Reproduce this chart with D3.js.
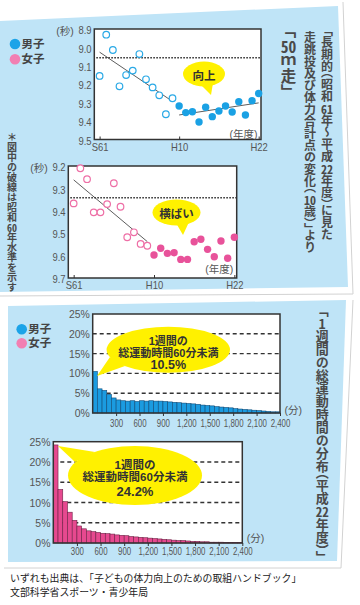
<!DOCTYPE html>
<html>
<head>
<meta charset="utf-8">
<script src="https://cdn.jsdelivr.net/npm/d3@7"></script>
<style>
  body { margin: 0; background: #fff; }
  svg { display: block; }
</style>
</head>
<body>
<script>
// ---- data: 50m dash (seconds, 10-year-olds) ----
const years = [1986, 1987, 1988, 1989, 1990, 1991, 1992, 1993, 1994, 1995, 1996, 1997,
               1998, 1999, 2000, 2001, 2002, 2003, 2004, 2005, 2006, 2007, 2008, 2009, 2010];
const boysTime = [9.155, 8.931, 9.014, 9.211, 9.150, 9.126, 9.036, 9.173, 9.217, 9.260, 9.363, 9.276,
                  9.318, 9.354, 9.349, 9.405, 9.325, 9.376, 9.345, 9.318, 9.351, 9.295, 9.367, 9.289, 9.250];
const girlsTime = [9.367, 9.210, 9.259, 9.407, 9.407, 9.370, 9.277, 9.382, 9.518, 9.496, 9.548, 9.556,
                   9.597, 9.567, 9.590, 9.587, 9.617, 9.617, 9.538, 9.527, 9.572, 9.605, 9.535, 9.612, 9.518];
const firstFilledYear = 1998;   // H10 onwards drawn as filled dots
const boysS60 = 9.056;          // S60 level (dotted line)
const girlsS60 = 9.342;
const yearTicks = [1986, 1998, 2010];
const yearTickLabels = ['S61', 'H10', 'H22'];
const boysTimeTicks = [8.9, 9.0, 9.1, 9.2, 9.3, 9.4, 9.5];
const girlsTimeTicks = [9.2, 9.3, 9.4, 9.5, 9.6, 9.7];

// ---- data: weekly exercise time distribution (%) per 60-minute bin ----
const binMinutes = 60;
const boysShare = [10.5, 6.1, 5.7, 4.7, 3.8, 3.3, 3.1, 3.0, 3.1, 2.9,
                   3.1, 3.0, 3.1, 3.0, 3.0, 2.9, 2.8, 2.7, 2.6, 2.5,
                   2.4, 2.3, 2.2, 2.0, 1.9, 1.8, 1.6, 1.5, 1.4, 1.3,
                   1.1, 1.0, 0.9, 0.8, 0.7, 0.6, 0.5, 0.4, 0.3, 0.3];
const girlsShare = [24.2, 13.2, 10.2, 7.6, 5.6, 4.2, 3.5, 3.0, 2.8, 2.6,
                    2.4, 2.3, 2.2, 2.0, 1.9, 1.8, 1.6, 1.5, 1.4, 1.3,
                    1.2, 1.1, 1.0, 0.9, 0.8, 0.7, 0.6, 0.6, 0.5, 0.4,
                    0.4, 0.3, 0.3, 0.2, 0.2, 0.2, 0.1, 0.1, 0.1, 0.1];
const minuteTicks = [300, 600, 900, 1200, 1500, 1800, 2100, 2400];
const shareTicks = [0, 5, 10, 15, 20, 25];
const shareGrid = [5, 10, 15, 20];

// colours
const PANEL = '#bfe4f7';
const YELLOW = '#fff100';
const TITLE = '#4a4a4a';
const BLUE = '#1aa1e4', BLUE_OPEN = '#2aa9e6', BLUE_LEG = '#1ba3e8';
const PINK = '#e8529a', PINK_OPEN = '#ee6fa6', PINK_LEG = '#f27fb2';
const FONT = "'Liberation Sans','Noto Sans CJK JP',sans-serif";
const CJK = "'Noto Sans CJK JP','Noto Sans',sans-serif";

const svg = d3.select('body').append('svg')
  .attr('width', 360).attr('height', 605)
  .style('font-family', FONT);

// background cards
svg.append('polygon').attr('points', '-2,21 338,6 348,287 -2,292').attr('fill', PANEL);
svg.append('polyline').attr('points', '343,2 353,294 0,296')
  .attr('fill', 'none').attr('stroke', '#d2d2d2').attr('stroke-width', 1);
svg.append('polygon').attr('points', '8,306 346,300 337,561 8,562').attr('fill', PANEL);
svg.append('polyline').attr('points', '353,300 341,568 4,568')
  .attr('fill', 'none').attr('stroke', '#d2d2d2').attr('stroke-width', 1);

// least squares line through a set of points
function fit(set) {
  const mx = d3.mean(set, d => d.yr), my = d3.mean(set, d => d.t);
  const b = d3.sum(set, d => (d.yr - mx) * (d.t - my)) / d3.sum(set, d => (d.yr - mx) ** 2);
  return v => my + b * (v - mx);
}

function styleTicks(axis, sx) {
  axis.attr('font-family', null).attr('font-size', null);
  axis.selectAll('text').attr('fill', '#555').attr('font-size', 10.5)
    .attr('transform', `scale(${sx},1)`);
}

// speech bubble: tail + ellipse + one text block
function callout(g, b) {
  g.append('path').attr('d', d3.line()(b.tail) + 'Z').attr('fill', YELLOW);
  g.append('ellipse').attr('cx', b.cx).attr('cy', b.cy).attr('rx', b.rx).attr('ry', b.ry)
    .attr('fill', YELLOW);
  const t = g.append('text').attr('text-anchor', 'middle').attr('dominant-baseline', 'central')
    .attr('font-weight', 'bold').attr('fill', '#333');
  b.lines.forEach(l => {
    t.append('tspan').attr('x', b.cx).attr('y', l.y).attr('font-size', l.size).text(l.text);
  });
}

function scatter(o) {
  const x = d3.scaleLinear().domain([1985.2, 2010.35]).range([o.left, o.right]);
  const y = d3.scaleLinear().domain(o.yDomain).range([o.top, o.bottom]);
  const data = years.map((yr, i) => ({ yr, t: o.values[i] }));
  const early = data.filter(d => d.yr < firstFilledYear);
  const late = data.filter(d => d.yr >= firstFilledYear);
  const g = svg.append('g');

  g.append('rect').attr('x', o.left).attr('y', o.top)
    .attr('width', o.right - o.left).attr('height', o.bottom - o.top).attr('fill', '#fff');
  // S60 level
  g.append('line').attr('x1', o.left + 2).attr('x2', o.right)
    .attr('y1', y(o.s60)).attr('y2', y(o.s60))
    .attr('stroke', '#333').attr('stroke-width', 1.6).attr('stroke-dasharray', '1.6,1.4');
  // trend lines
  (o.lateTrend ? [early, late] : [early]).forEach(set => {
    const f = fit(set);
    const a = set[0].yr, b = set[set.length - 1].yr;
    g.append('line').attr('x1', x(a)).attr('y1', y(f(a))).attr('x2', x(b)).attr('y2', y(f(b)))
      .attr('stroke', '#333').attr('stroke-width', 0.8);
  });
  callout(g, o.bubble);
  g.append('rect').attr('x', o.left).attr('y', o.top)
    .attr('width', o.right - o.left).attr('height', o.bottom - o.top)
    .attr('fill', 'none').attr('stroke', '#333').attr('stroke-width', 1.5);

  g.selectAll('circle.open').data(early).join('circle').attr('class', 'open')
    .attr('cx', d => x(d.yr)).attr('cy', d => y(d.t)).attr('r', 3.3)
    .attr('fill', '#fff').attr('stroke', o.open).attr('stroke-width', 1.2);
  g.selectAll('circle.dot').data(late).join('circle').attr('class', 'dot')
    .attr('cx', d => x(d.yr)).attr('cy', d => y(d.t)).attr('r', 3.7)
    .attr('fill', o.fill);

  const ya = g.append('g').attr('transform', `translate(${o.left},0)`)
    .call(d3.axisLeft(y).tickValues(o.yTicks).tickFormat(d3.format('.1f')).tickSize(0).tickPadding(3));
  ya.select('.domain').remove();
  styleTicks(ya, 0.9);
  ya.selectAll('text').attr('dy', '0.45em');

  const xa = g.append('g').attr('transform', `translate(0,${o.bottom})`)
    .call(d3.axisBottom(x).tickValues(yearTicks).tickFormat((d, i) => yearTickLabels[i])
      .tickSizeInner(-3).tickSizeOuter(0).tickPadding(4));
  xa.select('.domain').remove();
  xa.selectAll('line').attr('stroke', '#333');
  styleTicks(xa, 0.9);

  g.append('text').attr('x', o.left - 20.5).attr('y', o.top + 2)
    .attr('text-anchor', 'end').attr('dominant-baseline', 'central')
    .attr('font-size', 10.5).attr('fill', '#555').text('(秒)');
  g.append('text').attr('x', o.right - 3.5).attr('y', o.bottom - o.unitDy)
    .attr('text-anchor', 'end').attr('dominant-baseline', 'central')
    .attr('font-size', 10.5).attr('fill', '#555').text('(年度)');
}

function histogram(o) {
  const x = d3.scaleLinear().domain([0, 2400]).range([o.left, o.right]);
  const y = d3.scaleLinear().domain([0, 25]).range([o.bottom, o.top]);
  const bins = o.values.map((v, i) => ({ lo: i * binMinutes, hi: (i + 1) * binMinutes, v }));
  const g = svg.append('g');

  g.append('rect').attr('x', o.left).attr('y', o.top)
    .attr('width', o.right - o.left).attr('height', o.bottom - o.top).attr('fill', '#fff');
  g.selectAll('line.grid').data(shareGrid).join('line').attr('class', 'grid')
    .attr('x1', o.left).attr('x2', o.right).attr('y1', d => y(d)).attr('y2', d => y(d))
    .attr('stroke', '#333').attr('stroke-width', 1.4).attr('stroke-dasharray', '4,3');
  g.selectAll('rect.bar').data(bins).join('rect').attr('class', 'bar')
    .attr('x', d => x(d.lo)).attr('width', d => x(d.hi) - x(d.lo))
    .attr('y', d => y(d.v)).attr('height', d => y(0) - y(d.v))
    .attr('fill', o.fill).attr('stroke', o.stroke).attr('stroke-width', 0.6);
  callout(g, o.bubble);
  g.append('rect').attr('x', o.left).attr('y', o.top)
    .attr('width', o.right - o.left).attr('height', o.bottom - o.top)
    .attr('fill', 'none').attr('stroke', '#333').attr('stroke-width', 1.5);

  const ya = g.append('g').attr('transform', `translate(${o.left},0)`)
    .call(d3.axisLeft(y).tickValues(shareTicks).tickFormat(d => d + '%').tickSize(0).tickPadding(3));
  ya.select('.domain').remove();
  styleTicks(ya, 0.95);
  ya.selectAll('text').attr('font-size', 11);

  const xa = g.append('g').attr('transform', `translate(0,${o.bottom})`)
    .call(d3.axisBottom(x).tickValues(minuteTicks).tickFormat(d3.format(','))
      .tickSize(3).tickPadding(o.pad));
  xa.select('.domain').remove();
  xa.selectAll('line').attr('stroke', '#333');
  styleTicks(xa, 0.75);

  g.append('text').attr('x', o.right + 4.5).attr('y', o.bottom - o.unitDy)
    .attr('dominant-baseline', 'central')
    .attr('font-size', 10.5).attr('fill', '#555').text('(分)');
}

// vertical Japanese titles: one vertical-rl block per column, numbers set upright
function vertical(str, x, top, size, lh) {
  const div = d3.select('body').append('div')
    .style('position', 'absolute').style('left', (x - lh / 2) + 'px').style('top', top + 'px')
    .style('writing-mode', 'vertical-rl').style('white-space', 'nowrap')
    .style('font-family', CJK).style('font-size', size + 'px').style('line-height', lh + 'px')
    .style('font-weight', 'bold').style('color', TITLE)
    .style('text-spacing-trim', 'space-all');
  str.match(/[0-9]+|[「」（）]|[^0-9「」（）]+/gu).forEach(tok => {
    const span = div.append('span').text(tok);
    if (/^[0-9]+$/.test(tok)) span.style('text-combine-upright', 'all');
    else if (/^[「」（）]$/.test(tok)) span.style('font-feature-settings', '"vhal" 1');
  });
}

function legend(cx, y1, y2) {
  [[y1, BLUE_LEG, '男子'], [y2, PINK_LEG, '女子']].forEach(([cy, c, label]) => {
    svg.append('circle').attr('cx', cx).attr('cy', cy).attr('r', 5.3).attr('fill', c);
    svg.append('text').attr('x', cx + 6.5).attr('y', cy).attr('dominant-baseline', 'central')
      .attr('font-size', 11.5).attr('font-weight', 'bold').attr('fill', '#444').text(label);
  });
}

// ---- top panel: 50m dash ----
legend(15, 44, 59.3);

scatter({
  left: 94.3, right: 261, top: 29, bottom: 139.5,
  yDomain: [8.9, 9.5], yTicks: boysTimeTicks, values: boysTime, s60: boysS60,
  open: BLUE_OPEN, fill: BLUE, lateTrend: true, unitDy: 6,
  bubble: { cx: 204, cy: 74, rx: 21, ry: 12.5, tail: [[200, 84], [213, 83], [211, 95]],
            lines: [{ text: '向上', y: 75.5, size: 11.5 }] }
});

scatter({
  left: 68.3, right: 236.7, top: 166, bottom: 278,
  yDomain: [9.2, 9.7], yTicks: girlsTimeTicks, values: girlsTime, s60: girlsS60,
  open: PINK_OPEN, fill: PINK, lateTrend: false, unitDy: 9,
  bubble: { cx: 176.5, cy: 212.5, rx: 24, ry: 13, tail: [[176, 223], [189, 222], [183, 235]],
            lines: [{ text: '横ばい', y: 213.5, size: 11.5 }] }
});

vertical('「長期的（昭和61年～平成22年度）に見た', 327, 30, 12, 15);
vertical('走跳投及び体力合計点の変化（10歳）」より', 310, 31, 12, 15);
vertical('「50ｍ走」', 288, 30, 15.5, 19);
vertical('＊図中の破線は昭和60年水準を示す', 11.5, 132, 10, 12);

// ---- bottom panel: weekly exercise time ----
legend(21.7, 329.3, 343.3);

histogram({
  left: 92.7, right: 280, top: 314, bottom: 413, pad: 4, unitDy: 3,
  values: boysShare, fill: '#1b9be0', stroke: '#0f4d7a',
  bubble: { cx: 168.3, cy: 349.8, rx: 61.7, ry: 23, tail: [[110, 357], [125, 366], [97, 376]],
            lines: [{ text: '1週間の', y: 340.5, size: 11 },
                    { text: '総運動時間60分未満', y: 352.7, size: 11 },
                    { text: '10.5%', y: 365, size: 12.5 }] }
});

histogram({
  left: 53.3, right: 242.3, top: 441.7, bottom: 543, pad: 1.5, unitDy: 5,
  values: girlsShare, fill: '#e6498f', stroke: '#6e2246',
  bubble: { cx: 135, cy: 475.5, rx: 67, ry: 29.5, tail: [[75, 462], [95, 452], [58, 446]],
            lines: [{ text: '1週間の', y: 464.5, size: 11.5 },
                    { text: '総運動時間60分未満', y: 477.4, size: 11.5 },
                    { text: '24.2%', y: 490.8, size: 13 }] }
});

vertical('「1週間の総運動時間の分布（平成22年度）」', 321.7, 310, 13, 16);

// ---- source ----
svg.append('text').attr('x', 10).attr('y', 578.5).attr('dominant-baseline', 'central')
  .attr('font-size', 9.9).attr('fill', '#222')
  .text('いずれも出典は、「子どもの体力向上のための取組ハンドブック」');
svg.append('text').attr('x', 10).attr('y', 592).attr('dominant-baseline', 'central')
  .attr('font-size', 9.9).attr('fill', '#222')
  .text('文部科学省スポーツ・青少年局');
</script>
</body>
</html>
